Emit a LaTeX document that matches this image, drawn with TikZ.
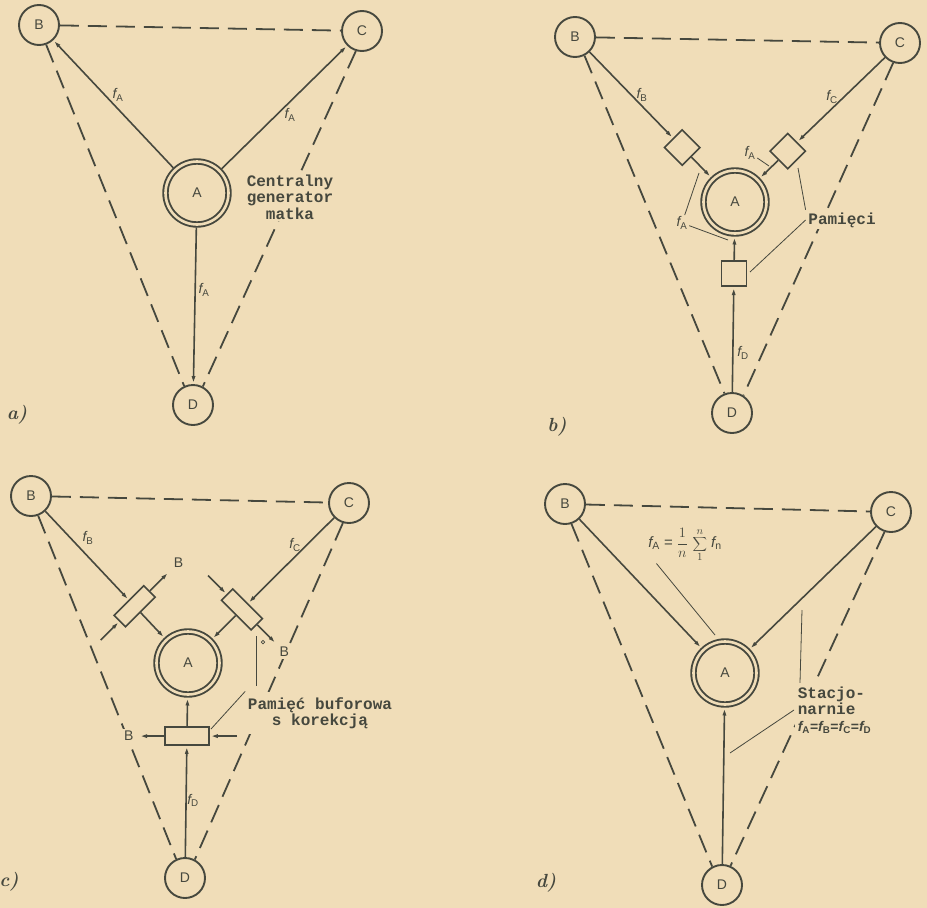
\documentclass[tikz,border=0pt]{standalone}
\usepackage{fontspec}
\setsansfont{Liberation Sans}
\setmonofont{Liberation Mono}
\usetikzlibrary{arrows.meta, calc}
\definecolor{paper}{RGB}{240,221,184}
\definecolor{ink}{RGB}{70,72,62}
\newcommand{\fq}[1]{{\sffamily\itshape f\textsubscript{\upshape #1}}}

\begin{document}
\begin{tikzpicture}[x=1pt, y=-1pt, line width=1.6pt, color=ink,
  st/.style={draw=ink, circle, line width=1.9pt, minimum size=40pt, inner sep=0pt,
    font=\sffamily\fontsize{14}{14}\selectfont},
  gen/.style={st, line width=1.9pt, double=paper, double distance=2.6pt, minimum size=63pt, outer sep=3pt},
  mem/.style={draw=ink, rectangle, line width=1.6pt, minimum size=25pt, inner sep=0pt},
  buf/.style={draw=ink, rectangle, line width=1.6pt, minimum width=42pt, minimum height=16pt, inner sep=0pt},
  ar/.style={-{Latex[length=8pt, width=4pt]}},
  dsh/.style={line width=1.8pt, dash pattern=on 19pt off 9pt},
  ld/.style={line width=0.8pt},
  fl/.style={inner sep=1pt, font=\sffamily\fontsize{14}{14}\selectfont},
  sl/.style={inner sep=2pt, fill=paper, font=\sffamily\fontsize{14}{14}\selectfont},
  tw/.style={font=\ttfamily\bfseries\fontsize{16}{16.5}\selectfont, fill=paper, inner sep=2pt},
  pl/.style={font=\rmfamily\bfseries\itshape\fontsize{19}{19}\selectfont}]

\useasboundingbox[fill=paper] (0,0) rectangle (927,908);

% --- a) one central master generator
\node[st] (aB) at (39,25) {B};
\node[st] (aC) at (362,31) {C};
\node[gen] (aA) at (197,193) {A};
\node[st] (aD) at (193,405) {D};
\draw[dsh] (aB) -- (aC);
\draw[dsh] (aB.-70) -- (aD.115);
\draw[dsh] (aC.-107) -- (aD.62);
\draw[ar] (aA) -- (aB);
\draw[ar] (aA) -- (aC);
\draw[ar] (aA) -- (aD);
\node[fl] (afB) at (118,95) {\fq{A}};
\node[fl] (afC) at (290,115) {\fq{A}};
\node[fl] (afD) at (204,290) {\fq{A}};
\node[tw, align=center] (agen) at (290,197) {Centralny\\generator\\matka};
\node[pl] (alab) at (17,415) {a)};

% --- b) every station has its own clock, memories in front of A
\node[st] (bB) at (575,37) {B};
\node[st] (bC) at (900,43) {C};
\node[gen] (bA) at (735,202) {A};
\node[st] (bD) at (732,413) {D};
\node[mem, rotate=45] (bL) at ($(bB)!0.67!(bA)$) {};
\node[mem, rotate=45] (bR) at ($(bC)!0.68!(bA)$) {};
\node[mem] (bM) at ($(bD)!0.66!(bA)$) {};
\draw[dsh] (bB) -- (bC);
\draw[dsh] (bB.-63) -- (bD.111);
\draw[dsh] (bC.-109) -- (bD.57);
\draw[ar] (bB) -- (bL);
\draw[ar] (bL) -- (bA);
\draw[ar] (bC) -- (bR);
\draw[ar] (bR) -- (bA);
\draw[ar] (bD) -- (bM);
\draw[ar] (bM) -- (bA);
\node[fl] (bfB) at (642,95) {\fq{B}};
\node[fl] (bfC) at (832,97) {\fq{C}};
\node[fl] (bfA1) at (750,153) {\fq{A}};
\node[fl] (bfA2) at (682,223) {\fq{A}};
\node[fl] (bfD) at (743,353) {\fq{D}};
\node[tw] (bmem) at (842,220) {Pamięci};
\coordinate (bk1) at (769,166);
\coordinate (bk2) at (699,173);
\coordinate (bk3) at (728,240);
\coordinate (bk4) at (798,168);
\coordinate (bk5) at (750,272);
\draw[ld] (bfA1) -- (bk1);
\draw[ld] (bfA2) -- (bk2);
\draw[ld] (bfA2) -- (bk3);
\draw[ld] (bmem.north west) -- (bk4);
\draw[ld] (bmem.west) -- (bk5);
\node[pl] (blab) at (557,427) {b)};

% --- c) buffer memories with correction
\node[st] (cB) at (31,496) {B};
\node[st] (cC) at (349,503) {C};
\node[gen] (cA) at (188,663) {A};
\node[st] (cD) at (185,878) {D};
\node[buf, rotate=45] (cL) at ($(cB)!0.66!(cA)$) {};
\node[buf, rotate=-45] (cR) at ($(cC)!0.665!(cA)$) {};
\node[buf, minimum width=44pt, minimum height=18pt] (cM) at ($(cD)!0.66!(cA)$) {};
\draw[dsh] (cB) -- (cC);
\draw[dsh] (cB.-70) -- (cD.115);
\draw[dsh] (cC.-107) -- (cD.62);
\draw[ar] (cB) -- (cL);
\draw[ar] (cL) -- (cA);
\draw[ar] (cC) -- (cR);
\draw[ar] (cR) -- (cA);
\draw[ar] (cD) -- (cM);
\draw[ar] (cM) -- (cA);
% side arrows: correction in, B out
\coordinate (cLo) at ($(cL.center)!2.2!(cL.east)$);
\coordinate (cLi) at ($(cL.center)!2.2!(cL.west)$);
\coordinate (cRo) at ($(cR.center)!2.2!(cR.east)$);
\coordinate (cRi) at ($(cR.center)!2.2!(cR.west)$);
\coordinate (cMo) at ($(cM.center)!2.1!(cM.west)$);
\coordinate (cMi) at ($(cM.center)!2.2!(cM.east)$);
\draw[ar] (cL.east) -- (cLo);
\draw[ar] (cLi) -- (cL.west);
\draw[ar] (cR.east) -- (cRo);
\draw[ar] (cRi) -- (cR.west);
\draw[ar] (cM.west) -- (cMo);
\draw[ar] (cMi) -- (cM.east);
\node[sl] (cLb) at ($(cL.center)!2.85!(cL.east)$) {B};
\node[sl] (cRb) at ($(cR.center)!2.75!(cR.east)$) {B};
\node[sl] (cMb) at ($(cM.center)!2.55!(cM.west)$) {B};
\node[draw=ink, circle, line width=0.7pt, inner sep=0pt, minimum size=3.5pt] (cdeg) at (263,642) {};
\node[fl] (cfB) at (88,538) {\fq{B}};
\node[fl] (cfC) at (295,545) {\fq{C}};
\node[fl] (cfD) at (193,800) {\fq{D}};
\node[tw, align=center, inner ysep=5pt] (cbuf) at (320,713) {Pamięć buforowa\\s korekcją};
\coordinate (ck1) at (256,636);
\coordinate (ck2) at (256,686);
\coordinate (ck3) at (211,729);
\draw[ld] (ck1) -- (ck2);
\draw[ld] (cbuf.north west) -- (ck3);
\node[pl] (clab) at (9,882) {c)};

% --- d) mutual synchronisation, A takes the mean
\node[st] (dB) at (565,504) {B};
\node[st] (dC) at (891,512) {C};
\node[gen] (dA) at (725,673) {A};
\node[st] (dD) at (722,885) {D};
\draw[dsh] (dB) -- (dC);
\draw[dsh] (dB.-72) -- (dD.118);
\draw[dsh] (dC.-108) -- (dD.66);
\draw[ar] (dB) -- (dA);
\draw[ar] (dC) -- (dA);
\draw[ar] (dD) -- (dA);
\node[fl, font=\sffamily\fontsize{15}{15}\selectfont] (dmean) at (685,545) {\fq{A} = $\displaystyle\frac{1}{n}\,\sum_{1}^{n}$ \fq{n}};
\node[tw, align=left, anchor=west, inner sep=3pt] (dstat) at (794,710) {Stacjo-\\narnie\\{\sffamily\fontsize{14}{14}\selectfont\fq{A}=\fq{B}=\fq{C}=\fq{D}}};
\coordinate (dk1) at (715,635);
\coordinate (dk2) at (802,610);
\coordinate (dk3) at (730,753);
\draw[ld] ([xshift=10pt]dmean.south west) -- (dk1);
\draw[ld] ([xshift=6pt]dstat.north west) -- (dk2);
\draw[ld] (dstat.west) -- (dk3);
\node[pl] (dlab) at (546,883) {d)};
\end{tikzpicture}
\end{document}
